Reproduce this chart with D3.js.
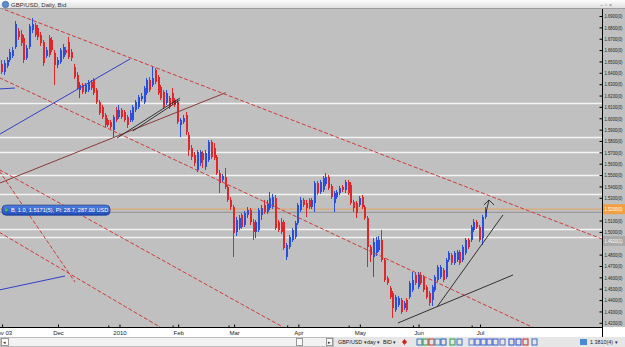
<!DOCTYPE html>
<html>
<head>
<meta charset="utf-8">
<script src="https://cdn.jsdelivr.net/npm/d3@7"></script>
<style>
  body { margin:0; background:#fff; }
  svg { display:block; font-family:"Liberation Sans", Arial, sans-serif; }
</style>
</head>
<body>
<svg id="chart" width="625" height="347"></svg>
<script>
// GBP/USD daily bid candles
var openP = [
1.6539,1.6478,1.6407,1.6460,1.6513,1.6548,1.6627,1.6768,1.6742,1.6706,
1.6530,1.6627,1.6777,1.6821,1.6794,1.6733,1.6671,1.6548,1.6706,1.6689,
1.6574,1.6469,1.6495,1.6539,1.6601,1.6671,1.6583,1.6451,1.6381,1.6249,
1.6293,1.6231,1.6249,1.6319,1.6337,1.6249,1.6143,1.6099,1.6029,1.5985,
1.5967,1.5897,1.6073,1.6011,1.6073,1.6055,1.6011,1.5985,1.5985,1.6073,
1.6099,1.6170,1.6143,1.6222,1.6337,1.6293,1.6425,1.6363,1.6275,1.6231,
1.6134,1.6178,1.6222,1.6161,1.6143,1.5941,1.5967,1.6029,1.5853,1.5738,
1.5677,1.5545,1.5606,1.5694,1.5571,1.5633,1.5791,1.5738,1.5659,1.5518,
1.5457,1.5483,1.5395,1.5281,1.5219,1.4999,1.5034,1.5149,1.5061,1.5149,
1.5193,1.5087,1.4999,1.5017,1.5149,1.5237,1.5175,1.5210,1.5219,1.5298,
1.5087,1.5087,1.5087,1.4779,1.4867,1.4929,1.4955,1.5078,1.5193,1.5281,
1.5254,1.5281,1.5219,1.5254,1.5430,1.5351,1.5369,1.5422,1.5483,1.5404,
1.5254,1.5307,1.5342,1.5395,1.5369,1.5439,1.5413,1.5263,1.5254,1.5237,
1.5307,1.5219,1.5122,1.4867,1.4779,1.4814,1.4841,1.4929,1.4753,1.4594,
1.4506,1.4462,1.4313,1.4357,1.4401,1.4330,1.4401,1.4427,1.4489,1.4621,
1.4515,1.4621,1.4603,1.4515,1.4462,1.4401,1.4489,1.4577,1.4603,1.4665,
1.4603,1.4753,1.4797,1.4726,1.4753,1.4823,1.4753,1.4814,1.4929,1.4929,
1.5017,1.5087,1.5043,1.4946,1.5131];
var highP = [
1.6566,1.6513,1.6513,1.6539,1.6610,1.6627,1.6856,1.6794,1.6777,1.6733,
1.6645,1.6830,1.6882,1.6838,1.6821,1.6759,1.6689,1.6627,1.6733,1.6715,
1.6601,1.6539,1.6618,1.6654,1.6627,1.6715,1.6610,1.6478,1.6407,1.6319,
1.6310,1.6310,1.6337,1.6337,1.6354,1.6266,1.6161,1.6117,1.6046,1.6002,
1.5985,1.6029,1.6099,1.6117,1.6090,1.6073,1.6029,1.6073,1.6117,1.6161,
1.6205,1.6222,1.6284,1.6354,1.6363,1.6451,1.6442,1.6381,1.6293,1.6249,
1.6249,1.6196,1.6266,1.6178,1.6161,1.6002,1.6029,1.6055,1.5879,1.5765,
1.5703,1.5721,1.5721,1.5712,1.5721,1.5809,1.5809,1.5782,1.5677,1.5545,
1.5510,1.5562,1.5413,1.5307,1.5237,1.5131,1.5149,1.5166,1.5184,1.5219,
1.5210,1.5114,1.5105,1.5210,1.5237,1.5281,1.5281,1.5351,1.5334,1.5325,
1.5105,1.5122,1.5105,1.4902,1.4973,1.5034,1.5096,1.5254,1.5307,1.5298,
1.5281,1.5298,1.5298,1.5448,1.5448,1.5457,1.5492,1.5518,1.5501,1.5422,
1.5360,1.5369,1.5404,1.5413,1.5457,1.5457,1.5439,1.5281,1.5272,1.5316,
1.5325,1.5237,1.5140,1.4885,1.4946,1.4955,1.4964,1.5017,1.4770,1.4612,
1.4524,1.4480,1.4445,1.4436,1.4418,1.4392,1.4418,1.4568,1.4647,1.4638,
1.4647,1.4647,1.4621,1.4533,1.4480,1.4533,1.4621,1.4709,1.4709,1.4682,
1.4770,1.4832,1.4814,1.4832,1.4841,1.4841,1.4885,1.4946,1.4946,1.5061,
1.5114,1.5105,1.5061,1.5149,1.5219];
var lowP = [
1.6442,1.6390,1.6381,1.6442,1.6495,1.6530,1.6610,1.6689,1.6636,1.6486,
1.6513,1.6610,1.6750,1.6715,1.6689,1.6636,1.6460,1.6530,1.6539,1.6583,
1.6293,1.6442,1.6478,1.6522,1.6557,1.6522,1.6504,1.6346,1.6249,1.6178,
1.6214,1.6214,1.6231,1.6249,1.6205,1.6126,1.6029,1.5994,1.5923,1.5923,
1.5906,1.5835,1.5967,1.5994,1.5994,1.5967,1.5914,1.5967,1.5967,1.6055,
1.6082,1.6152,1.6126,1.6205,1.6231,1.6275,1.6302,1.6205,1.6161,1.6082,
1.6117,1.6082,1.6117,1.6099,1.5950,1.5835,1.5950,1.5853,1.5668,1.5633,
1.5580,1.5527,1.5580,1.5562,1.5545,1.5615,1.5642,1.5633,1.5501,1.5342,
1.5439,1.5378,1.5263,1.5193,1.4779,1.4964,1.5017,1.5026,1.5043,1.5122,
1.5061,1.4929,1.4946,1.4999,1.5105,1.5158,1.5158,1.5193,1.5202,1.5017,
1.4999,1.4982,1.4841,1.4753,1.4850,1.4911,1.4938,1.5061,1.5175,1.5219,
1.5131,1.5202,1.5202,1.5175,1.5325,1.5334,1.5351,1.5404,1.5369,1.5290,
1.5175,1.5290,1.5325,1.5351,1.5342,1.5325,1.5237,1.5175,1.5122,1.5219,
1.5202,1.5105,1.4691,1.4735,1.4603,1.4788,1.4823,1.4735,1.4559,1.4533,
1.4410,1.4242,1.4295,1.4339,1.4278,1.4313,1.4295,1.4410,1.4471,1.4533,
1.4498,1.4533,1.4471,1.4410,1.4348,1.4348,1.4471,1.4559,1.4586,1.4559,
1.4586,1.4735,1.4709,1.4709,1.4735,1.4709,1.4735,1.4797,1.4850,1.4911,
1.4999,1.5026,1.4911,1.4885,1.5114];
var closeP = [
1.6460,1.6407,1.6486,1.6513,1.6583,1.6601,1.6830,1.6715,1.6662,1.6513,
1.6618,1.6812,1.6830,1.6733,1.6715,1.6662,1.6486,1.6601,1.6557,1.6601,
1.6469,1.6513,1.6601,1.6627,1.6574,1.6539,1.6530,1.6363,1.6266,1.6293,
1.6231,1.6293,1.6310,1.6266,1.6222,1.6143,1.6046,1.6011,1.5941,1.5941,
1.5923,1.6011,1.5985,1.6073,1.6011,1.5985,1.5941,1.6046,1.6099,1.6143,
1.6187,1.6196,1.6266,1.6337,1.6249,1.6354,1.6319,1.6222,1.6178,1.6099,
1.6222,1.6099,1.6134,1.6117,1.5967,1.5985,1.6002,1.5879,1.5721,1.5659,
1.5606,1.5703,1.5703,1.5633,1.5694,1.5791,1.5659,1.5650,1.5518,1.5430,
1.5492,1.5395,1.5281,1.5219,1.4990,1.5105,1.5122,1.5043,1.5166,1.5193,
1.5087,1.4999,1.5087,1.5193,1.5210,1.5175,1.5246,1.5298,1.5307,1.5034,
1.5017,1.4999,1.4858,1.4885,1.4955,1.5017,1.5078,1.5237,1.5281,1.5237,
1.5210,1.5219,1.5281,1.5430,1.5342,1.5439,1.5474,1.5483,1.5386,1.5307,
1.5342,1.5351,1.5386,1.5369,1.5439,1.5342,1.5254,1.5210,1.5166,1.5298,
1.5219,1.5122,1.4867,1.4797,1.4911,1.4929,1.4929,1.4753,1.4577,1.4550,
1.4427,1.4330,1.4427,1.4418,1.4295,1.4374,1.4313,1.4550,1.4577,1.4550,
1.4621,1.4550,1.4489,1.4427,1.4374,1.4515,1.4603,1.4691,1.4691,1.4577,
1.4753,1.4814,1.4726,1.4814,1.4823,1.4726,1.4867,1.4929,1.4867,1.5043,
1.5087,1.5043,1.4929,1.5131,1.5193];

var yTicks = [1.42,1.43,1.44,1.45,1.46,1.47,1.48,1.50,1.51,1.53,1.54,1.55,
              1.56,1.57,1.58,1.59,1.60,1.61,1.62,1.63,1.64,1.65,1.66,1.67,1.68,1.69];
var xTickDates  = ["2009-11-03","2009-12-01","2010-01-01","2010-02-01","2010-03-01","2010-04-01","2010-05-03","2010-06-01","2010-07-01"];
var xTickLabels = ["Nov 03","Dec","2010","Feb","Mar","Apr","May","Jun","Jul"];
var xMinorDates = ["2009-12-28","2010-01-28","2010-02-25","2010-03-26","2010-04-27","2010-05-28","2010-06-28"];

// horizontal levels drawn on the chart
var levels = [1.6134,1.5835,1.5703,1.5501,1.5334,1.5026,1.4955];
var bidPrice = 1.5200, entryPrice = 1.5171, markPrice = 1.4920;

// trend lines: [bar1, price1, bar2, price2]
var redLines = [
  [0,1.6974,216,1.4934],
  [0,1.6357,200,1.4055],
  [0,1.5548,110,1.4046],
  [0,1.5536,27.1,1.4559],
  [0,1.4997,60,1.4126]];
var brownLines = [[0,1.5428,81,1.6225]];
var blueLines = [
  [0,1.5858,46.8,1.6522],
  [0,1.6258,5.6,1.6266],
  [0,1.4489,23.5,1.4612]];
var blackLines = [
  [42.1,1.5826,64.6,1.6178],
  [47.8,1.5888,64.6,1.6161],
  [142.6,1.4198,183.8,1.4621],
  [156.6,1.4339,180.2,1.5149]];
var arrowHead = [[173.4,1.5237],[175.2,1.5281],[177.0,1.5237]];
var arrowStem = [[174.1,1.5166],[175.2,1.5281]];

// trading days: weekdays, no bar on christmas day
var parseD = d3.timeParse("%Y-%m-%d"), fmtD = d3.timeFormat("%Y-%m-%d");
var dates = d3.timeDay.range(parseD("2009-11-02"), parseD("2010-07-06"))
  .filter(function(d){ var w = d.getDay(); return w>0 && w<6 && fmtD(d)!="2009-12-25"; })
  .map(fmtD);

var step = 2.795;
var x = d3.scaleLinear().domain([0, dates.length-1]).range([-0.7, -0.7 + (dates.length-1)*step]);
var y = d3.scaleLinear().domain([1.42, 1.69]).range([322.8, 16]);

var plotR = 602, plotT = 9, plotB = 327;
var svg = d3.select("#chart");
var defs = svg.append("defs");

defs.append("clipPath").attr("id","plotclip")
  .append("rect").attr("x",0).attr("y",plotT).attr("width",plotR).attr("height",plotB-plotT);

var tg = defs.append("linearGradient").attr("id","titlegrad").attr("x1",0).attr("y1",0).attr("x2",0).attr("y2",1);
tg.append("stop").attr("offset","0%").attr("stop-color","#fdfdfd");
tg.append("stop").attr("offset","100%").attr("stop-color","#dcdcdc");

var bg = defs.append("linearGradient").attr("id","posgrad").attr("x1",0).attr("y1",0).attr("x2",0).attr("y2",1);
bg.append("stop").attr("offset","0%").attr("stop-color","#4f80e0");
bg.append("stop").attr("offset","100%").attr("stop-color","#1f4cb8");

// background
svg.append("rect").attr("x",0).attr("y",0).attr("width",625).attr("height",347).attr("fill","#c0c0c0");

var plot = svg.append("g").attr("clip-path","url(#plotclip)");

// white level lines
plot.selectAll(".lvl").data(levels).enter().append("line")
  .attr("class","lvl")
  .attr("x1",0).attr("x2",plotR)
  .attr("y1",function(d){return Math.round(y(d))+0.5})
  .attr("y2",function(d){return Math.round(y(d))+0.5})
  .attr("stroke","#f4f4f4").attr("stroke-width",1.3);

// position lines
plot.append("line").attr("x1",0).attr("x2",plotR)
  .attr("y1",y(entryPrice)).attr("y2",y(entryPrice))
  .attr("stroke","#9a9a9a").attr("stroke-width",1.2);
plot.append("line").attr("x1",0).attr("x2",plotR)
  .attr("y1",y(bidPrice)).attr("y2",y(bidPrice))
  .attr("stroke","#d9a877").attr("stroke-width",1.4);

// candles
var upCol = "#2a4fe0", dnCol = "#e0262a";
var bar = plot.selectAll(".bar").data(closeP).enter().append("g").attr("class","bar");
bar.append("line")
  .attr("x1",function(d,i){return Math.round(x(i))-0.5})
  .attr("x2",function(d,i){return Math.round(x(i))-0.5})
  .attr("y1",function(d,i){return y(highP[i])})
  .attr("y2",function(d,i){return y(lowP[i])})
  .attr("stroke",function(d,i){return closeP[i]>=openP[i] ? upCol : dnCol})
  .attr("stroke-width",1);
bar.append("rect")
  .attr("x",function(d,i){return Math.round(x(i))-1})
  .attr("width",2)
  .attr("y",function(d,i){return y(Math.max(openP[i],closeP[i]))})
  .attr("height",function(d,i){return Math.max(1, Math.abs(y(openP[i])-y(closeP[i])))})
  .attr("fill",function(d,i){return closeP[i]>=openP[i] ? upCol : dnCol});

// drawn trend lines
function seg(sel, list, color, dash, w){
  sel.selectAll(null).data(list).enter().append("line")
    .attr("x1",function(d){return x(d[0])}).attr("y1",function(d){return y(d[1])})
    .attr("x2",function(d){return x(d[2])}).attr("y2",function(d){return y(d[3])})
    .attr("stroke",color).attr("stroke-width",w)
    .attr("stroke-dasharray",dash);
}
seg(plot, redLines, "#d03a3a", "4,2", 1);
seg(plot, brownLines, "#8a3a3a", null, 1);
seg(plot, blueLines, "#3340c8", null, 1);
seg(plot, blackLines, "#222", null, 0.9);

var ln = d3.line().x(function(d){return x(d[0])}).y(function(d){return y(d[1])});
plot.append("path").attr("d",ln(arrowHead)).attr("fill","none").attr("stroke","#222").attr("stroke-width",0.9);
plot.append("path").attr("d",ln(arrowStem)).attr("fill","none").attr("stroke","#222").attr("stroke-width",0.9);

// position tag on the left
var tagY = y(bidPrice) + 1;
svg.append("rect").attr("x",2).attr("y",tagY-5).attr("width",108).attr("height",10).attr("rx",4)
  .attr("fill","url(#posgrad)").attr("stroke","#1a3a90").attr("stroke-width",0.8);
svg.append("rect").attr("x",5).attr("y",tagY-1.5).attr("width",2.5).attr("height",2.5).attr("fill","#38c838");
svg.append("text").attr("x",11).attr("y",tagY+2).attr("fill","#fff").attr("font-size","5.6px")
  .text("B, 1.0, 1.5171(5), Pl: 28.7, 287.00 USD");

// y axis on the right (labels squeezed into the narrow strip)
var yAxis = d3.axisRight(y).tickValues(yTicks).tickSizeInner(-3).tickSizeOuter(0).tickPadding(2)
  .tickFormat(function(d){return d.toFixed(4)+"(0)"});
var ya = svg.append("g").attr("transform","translate("+(plotR+0.5)+",0)").call(yAxis);
ya.select(".domain").remove();
ya.selectAll("text").attr("font-size","5.4px").attr("fill","#222")
  .attr("textLength",18).attr("lengthAdjust","spacingAndGlyphs");
ya.selectAll("line").attr("stroke","#000");

// price tags on the axis
svg.append("rect").attr("x",plotR+1).attr("y",y(bidPrice)-5).attr("width",23).attr("height",10).attr("fill","#f0a040");
svg.append("text").attr("x",plotR+2.5).attr("y",y(bidPrice)+2).attr("fill","#fff").attr("font-size","5.4px")
  .attr("textLength",18).attr("lengthAdjust","spacingAndGlyphs").text("1.5200(0)");
svg.append("rect").attr("x",plotR+1).attr("y",y(markPrice)-5).attr("width",23).attr("height",10).attr("fill","#a9a9a9");
svg.append("text").attr("x",plotR+2.5).attr("y",y(markPrice)+2).attr("fill","#fff").attr("font-size","5.4px")
  .attr("textLength",18).attr("lengthAdjust","spacingAndGlyphs").text("1.4920(1)");

// x axis band
svg.append("rect").attr("x",0).attr("y",plotB).attr("width",625).attr("height",10).attr("fill","#fff");
var tickIdx = xTickDates.map(function(d){return dates.indexOf(d)});
var xAxis = d3.axisBottom(x).tickValues(tickIdx).tickSizeInner(-3).tickSizeOuter(0).tickPadding(3)
  .tickFormat(function(d,k){return xTickLabels[k]});
var xa = svg.append("g").attr("transform","translate(0,"+(plotB+0.5)+")").call(xAxis);
xa.select(".domain").remove();
xa.selectAll("text").attr("font-size","6px").attr("fill","#222");
var xm = svg.append("g").attr("transform","translate(0,"+(plotB+0.5)+")")
  .call(d3.axisBottom(x).tickValues(xMinorDates.map(function(d){return dates.indexOf(d)})).tickSizeInner(-2).tickSizeOuter(0).tickFormat(""));
xm.select(".domain").remove();

svg.append("line").attr("x1",0).attr("x2",plotR+0.5).attr("y1",plotB+0.5).attr("y2",plotB+0.5).attr("stroke","#000");
svg.append("line").attr("x1",plotR+0.5).attr("x2",plotR+0.5).attr("y1",plotT).attr("y2",337).attr("stroke","#000");

// title bar
svg.append("rect").attr("x",0).attr("y",0).attr("width",625).attr("height",plotT).attr("fill","url(#titlegrad)");
svg.append("line").attr("x1",0).attr("x2",625).attr("y1",plotT-0.5).attr("y2",plotT-0.5).attr("stroke","#9c9c9c");
svg.append("circle").attr("cx",5.5).attr("cy",4.5).attr("r",3.2).attr("fill","#5d8fd0").attr("stroke","#2a5aa0").attr("stroke-width",0.6);
svg.append("text").attr("x",11).attr("y",6.8).attr("font-size","6px").attr("fill","#333").text("GBP/USD, Daily, Bid");
svg.append("text").attr("x",600).attr("y",7).attr("font-size","6px").attr("fill","#888").text("–  ▫  ×");

// bottom toolbar
svg.append("rect").attr("x",0).attr("y",337).attr("width",625).attr("height",10).attr("fill","#e6e6e6");
svg.append("rect").attr("x",0.5).attr("y",337.5).attr("width",333).attr("height",9).attr("fill","#f2f2f2").attr("stroke","#bdbdbd");
svg.append("rect").attr("x",1.5).attr("y",338.5).attr("width",7).attr("height",7).attr("fill","#fafafa").attr("stroke","#999");
svg.append("text").attr("x",3).attr("y",344.3).attr("font-size","5px").attr("fill","#333").text("◂");
svg.append("rect").attr("x",296.5).attr("y",338.5).attr("width",6).attr("height",7).attr("fill","#fafafa").attr("stroke","#999");
svg.append("rect").attr("x",326.5).attr("y",338.5).attr("width",6).attr("height",7).attr("fill","#fafafa").attr("stroke","#999");
svg.append("text").attr("x",327.5).attr("y",344.3).attr("font-size","5px").attr("fill","#333").text("▸");

var tb = svg.append("g").attr("font-size","5.4px").attr("fill","#222");
tb.append("text").attr("x",338).attr("y",344.3).text("GBP/USD ▾");
tb.append("text").attr("x",367).attr("y",344.3).text("day ▾");
tb.append("text").attr("x",383).attr("y",344.3).text("BID ▾");
tb.append("text").attr("x",590).attr("y",344.3).text("1.3810(4) ▾");
svg.append("path").attr("d","M404.5,339 L407,342 L404.5,345 L402,342 Z").attr("fill","#d02020");

var icons = [[417,"#3a6fc8"],[423,"#2a9a2a"],[429,"#d03030"],[435,"#3a8ac8"],[441,"#2a5ab8"],
             [450,"#2a9a4a"],[457,"#3a6fc8"],[469,"#5a7ac8"],[475,"#3a5ad8"],[481,"#3a5ad8"],
             [487,"#3a5ad8"],[493,"#3a5ad8"],[500,"#5a6ab8"],[509,"#2a4ad8"],[516,"#2a4ad8"],
             [523,"#c02a2a"],[532,"#3a6fc8"]];
svg.selectAll(".icon").data(icons).enter().append("rect")
  .attr("class","icon")
  .attr("x",function(d){return d[0]}).attr("y",339).attr("width",5).attr("height",6)
  .attr("fill","none").attr("stroke",function(d){return d[1]}).attr("stroke-width",1);
svg.append("rect").attr("x",580).attr("y",339).attr("width",7).attr("height",6).attr("fill","#4a8ad0");
</script>
</body>
</html>
